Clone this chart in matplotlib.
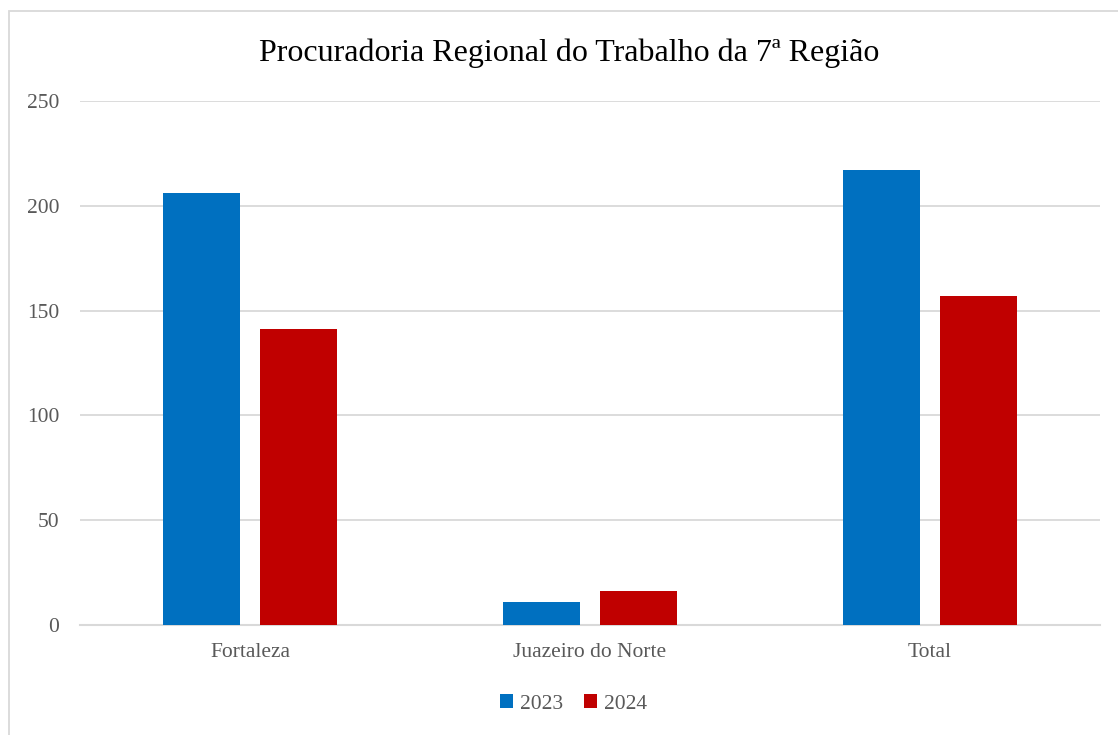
import matplotlib.pyplot as plt
import numpy as np
from matplotlib.patches import Rectangle

categorias = ["Fortaleza", "Juazeiro do Norte", "Total"]
anos = ["2023", "2024"]
v2023 = [206, 11, 217]
v2024 = [141, 16, 157]
cores = ["#0070C0", "#C00000"]

plt.rcParams['font.family'] = ['Liberation Serif', 'DejaVu Serif']

fig = plt.figure(figsize=(11.18, 7.35), dpi=100)
# moldura da área do gráfico
fig.patches.append(Rectangle((9 / 1118, -0.1), 1.2, (735 - 11) / 735 + 0.1,
                             transform=fig.transFigure, fill=False,
                             edgecolor="#d9d9d9", linewidth=1.3))

ax = fig.add_axes([80 / 1118, 110 / 735, 1020 / 1118, 524 / 735])

x = np.arange(len(categorias))
largura = 0.226
desloc = 0.142
ax.bar(x - desloc, v2023, largura, color=cores[0], label=anos[0], zorder=3)
ax.bar(x + desloc, v2024, largura, color=cores[1], label=anos[1], zorder=3)

ax.set_xlim(-0.5, 2.5)
ax.set_ylim(0, 250)
ax.set_yticks(range(0, 251, 50))
ax.set_xticks(x)
ax.set_xticklabels(categorias)
ax.tick_params(axis="both", length=0, labelsize=15.5, colors="#595959")
ax.tick_params(axis="x", pad=13)
ax.tick_params(axis="y", pad=15)
ax.grid(axis="y", color="#d9d9d9", linewidth=1.3, zorder=0)
for s in ["top", "right", "left"]:
    ax.spines[s].set_visible(False)
ax.spines["bottom"].set_color("#d9d9d9")
ax.spines["bottom"].set_linewidth(1.5)

fig.text(0.509, 0.927, "Procuradoria Regional do Trabalho da 7ª Região",
         ha="center", va="center", fontsize=23, color="black")

leg = fig.legend(loc="center", bbox_to_anchor=(0.513, 0.042), ncol=2,
                 frameon=False, fontsize=15.5, handlelength=0.6,
                 handleheight=0.6, handletextpad=0.3, columnspacing=1.0)
for t in leg.get_texts():
    t.set_color("#595959")

fig.savefig("out.png", dpi=100)
